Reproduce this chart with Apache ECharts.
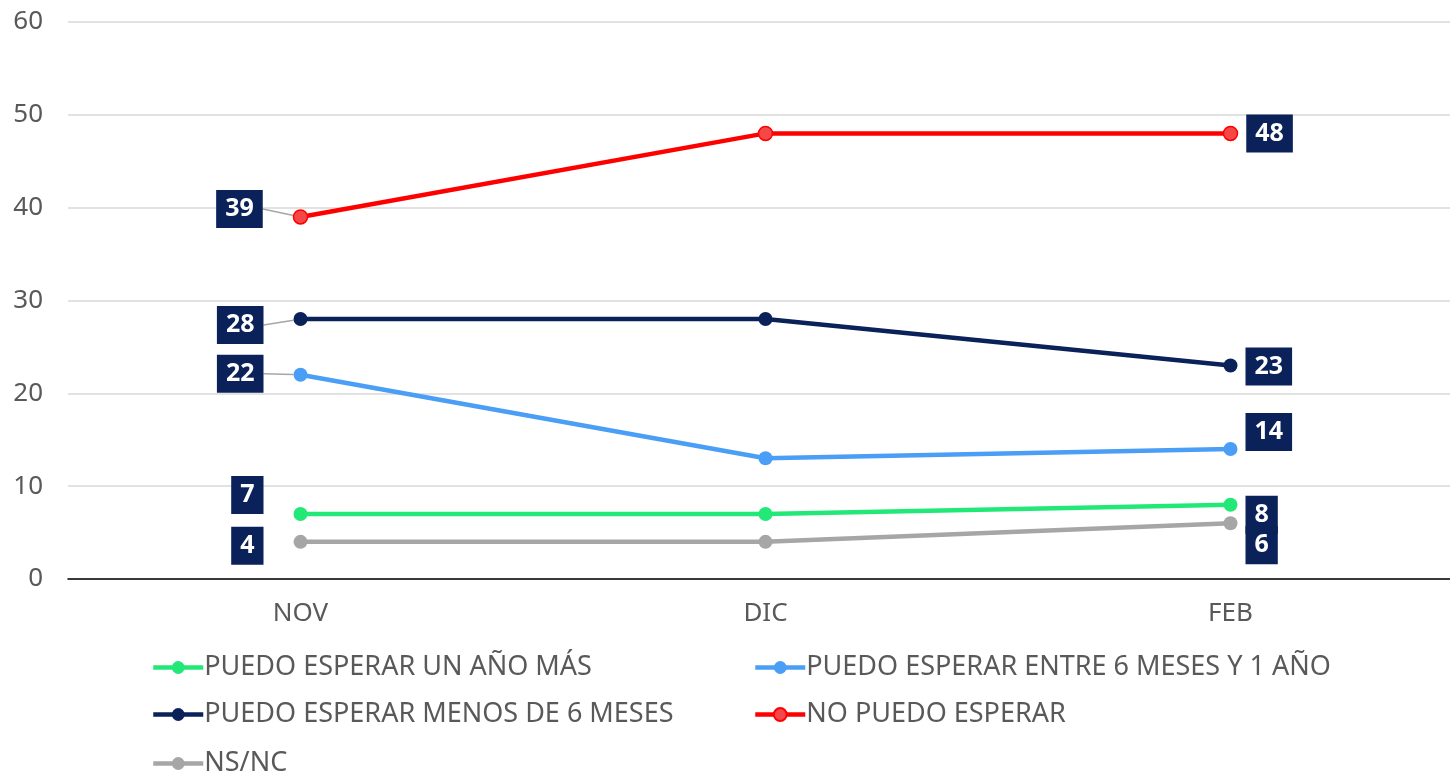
<!DOCTYPE html>
<html><head><meta charset="utf-8">
<script src="https://cdn.jsdelivr.net/npm/echarts@6/dist/echarts.min.js"></script>
<style>html,body{margin:0;padding:0;background:#fff}#c{width:1450px;height:773px}</style>
</head><body><div id="c"></div>
<script>
const categories = ['NOV', 'DIC', 'FEB'];
const seriesNames = ['PUEDO ESPERAR UN AÑO MÁS', 'PUEDO ESPERAR ENTRE 6 MESES Y 1 AÑO', 'PUEDO ESPERAR MENOS DE 6 MESES', 'NO PUEDO ESPERAR', 'NS/NC'];
const unAnoMas = [7, 7, 8];
const entre6y1 = [22, 13, 14];
const menos6 = [28, 28, 23];
const noPuedo = [39, 48, 48];
const nsnc = [4, 4, 6];
const yTicks = [0, 10, 20, 30, 40, 50, 60];

const colors = ['#22e878', '#4a9ef5', '#0b2159', '#ff0000', '#a6a6a6'];
const values = [unAnoMas, entre6y1, menos6, noPuedo, nsnc];
// label vertical nudges (px) to avoid overlaps: [series][dataIndex]
const labelDy = [
  [-19, 0, 10],
  [-1, 0, -17],
  [6, 0, 1],
  [-8, 0, 0],
  [4, 0, 22]
];
const font = '"Noto Sans", "Open Sans", sans-serif';

const series = values.map((v, i) => ({
  name: seriesNames[i],
  type: 'line',
  data: v.map((val, j) => ({
    value: val,
    label: {
      show: j !== 1,
      position: j === 0 ? 'left' : 'right',
      distance: j === 0 ? 30 : 8
    },
    labelLine: { show: j === 0 && i >= 1 && i <= 3 }
  })),
  symbol: 'circle',
  symbolSize: 14,
  lineStyle: { width: 4.5, color: colors[i] },
  itemStyle: i === 3 ? { color: '#f44848', borderColor: '#ff0000', borderWidth: 1.5 } : { color: colors[i] },
  label: {
    color: '#fff', fontWeight: 'bold', fontSize: 25, fontFamily: font,
    backgroundColor: '#0b2159', padding: [8, 9, 5, 9]
  },
  labelLine: { lineStyle: { color: '#a6a6a6', width: 1.5 } },
  labelLayout: function (p) {
    return { dy: labelDy[i][p.dataIndex] };
  },
  emphasis: { disabled: true },
  z: 10 - i
}));

const legendCommon = {
  orient: 'vertical', itemGap: 20,
  itemWidth: 50, itemHeight: 16,
  lineStyle: { width: 4.5 },
  textStyle: { fontSize: 27, color: '#595959', fontFamily: font, padding: [0, 0, 0, -4] }
};

const chart = echarts.init(document.getElementById('c'));
chart.setOption({
  animation: false,
  textStyle: { fontFamily: font },
  color: colors,
  grid: { left: 68, width: 1395, top: 22, bottom: 194, containLabel: false, outerBoundsMode: 'none' },
  legend: [
    Object.assign({ data: [seriesNames[0], seriesNames[2]], left: 146, top: 649 }, legendCommon),
    Object.assign({ data: [seriesNames[1], seriesNames[3]], left: 748, top: 649 }, legendCommon),
    Object.assign({ data: [seriesNames[4]], left: 146, top: 745 }, legendCommon)
  ],
  xAxis: {
    type: 'category', data: categories, boundaryGap: true,
    axisLine: { show: true, lineStyle: { color: '#000', width: 1.5 } },
    axisTick: { show: false },
    axisLabel: { fontSize: 26, color: '#595959', margin: 22 }
  },
  yAxis: {
    type: 'value', min: yTicks[0], max: yTicks[yTicks.length - 1], interval: 10,
    axisLine: { show: false }, axisTick: { show: false },
    axisLabel: { fontSize: 26, color: '#595959', margin: 25 },
    splitLine: { lineStyle: { color: '#d9d9d9', width: 1.5 } }
  },
  series: series
});
</script></body></html>
